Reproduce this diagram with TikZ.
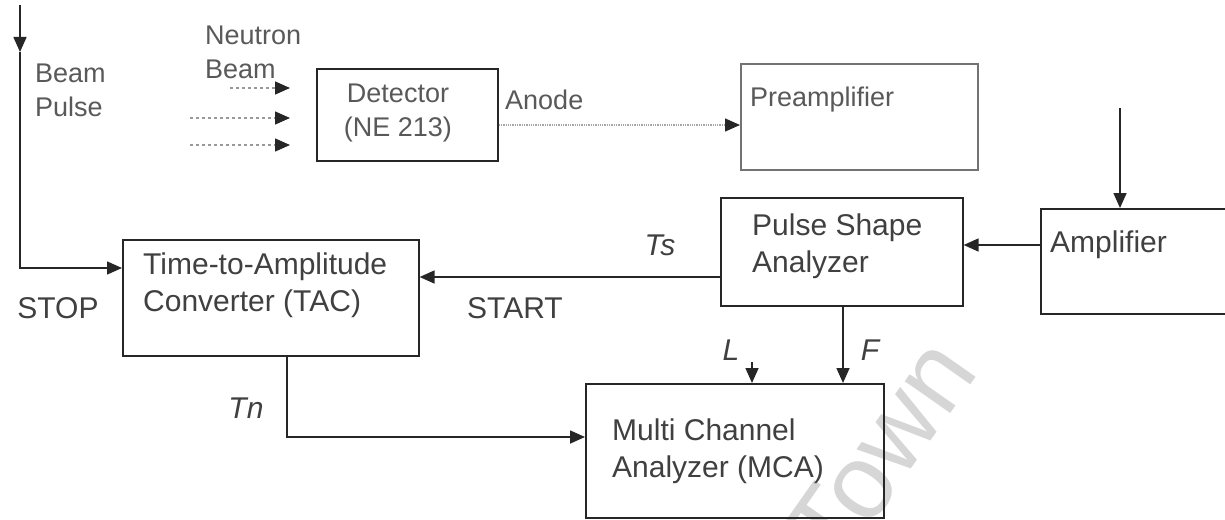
\documentclass[tikz,border=0pt]{standalone}
\usepackage{fontspec}
\setmainfont{Liberation Sans}
\usetikzlibrary{arrows.meta}
\begin{document}
\begin{tikzpicture}[x=1pt,y=-1pt,
  box/.style={draw=black!85,line width=1.6pt,inner sep=0pt},
  lbl/.style={text=black!75,font=\fontsize{30}{37}\selectfont,inner sep=0pt,align=left},
  slbl/.style={text=black!65,font=\fontsize{27}{34}\selectfont,inner sep=0pt,align=left},
  ilbl/.style={text=black!75,font=\fontsize{30}{37}\selectfont\itshape,inner sep=0pt},
  conn/.style={draw=black!85,line width=1.6pt,-{Triangle[length=15pt,width=13pt]}},
  faint/.style={draw=black!40,line width=1.4pt,dashed,-{Triangle[length=15pt,width=13pt,color=black!85]}},
]
\useasboundingbox (0,0) rectangle (1225,519);
\fill[white] (0,0) rectangle (1225,519);

% watermark
\node[text=black!16,font=\fontsize{105}{105}\selectfont,rotate=55,inner sep=0pt] (wm) at (880,452) {Town};

% boxes
\node[box,anchor=north west,minimum width=181pt,minimum height=92pt] (det) at (316,68) {};
\node[box,anchor=north west,minimum width=237pt,minimum height=106pt,draw=black!55] (pre) at (740,63) {};
\node[box,anchor=north west,minimum width=200pt,minimum height=105pt] (amp) at (1040,208) {};
\node[box,anchor=north west,minimum width=242pt,minimum height=108pt] (psa) at (720,197) {};
\node[box,anchor=north west,minimum width=296pt,minimum height=116pt] (tac) at (122,239) {};
\node[box,anchor=north west,minimum width=298pt,minimum height=134pt] (mca) at (585,383) {};

% box texts
\node[slbl,align=center] (dett) at (398,113) {Detector\\(NE 213)};
\node[slbl,anchor=west] (pret) at (750,100) {Preamplifier};
\node[lbl,anchor=west] (ampt) at (1050,245) {Amplifier};
\node[lbl,anchor=west] (psat) at (752,246) {Pulse Shape\\Analyzer};
\node[lbl,anchor=west] (tact) at (143,285) {Time-to-Amplitude\\Converter (TAC)};
\node[lbl,anchor=west] (mcat) at (612,451) {Multi Channel\\Analyzer (MCA)};

% labels
\node[slbl,anchor=west] (bpl) at (35,90) {Beam\\Pulse};
\node[slbl,anchor=west] (nbl) at (205,52) {Neutron\\Beam};
\node[slbl,anchor=west] (anl) at (505,100) {Anode};
\node[lbl] (stop) at (58,308) {STOP};
\node[lbl] (start) at (515,308) {START};
\node[ilbl] (ts) at (660,245) {Ts};
\node[ilbl] (tn) at (246,408) {Tn};
\node[ilbl] (ll) at (731,350) {L};
\node[ilbl] (ff) at (870,350) {F};

% coordinates
\coordinate (bp0) at (20,5);
\coordinate (bp1) at (20,52);
\coordinate (nb1) at (230,88);
\coordinate (nb2) at (190,118);
\coordinate (nb3) at (190,145);
\coordinate (pa) at (1120,108);
\coordinate (lc) at (752,362);

% connectors
\draw[conn] (bp0) -- (bp1);
\draw[conn] (bp1) |- (tac.west |- 0,268);
\draw[faint,shorten >=26pt] (nb1) -- (det.west |- nb1);
\draw[faint,shorten >=26pt] (nb2) -- (det.west |- nb2);
\draw[faint,shorten >=26pt] (nb3) -- (det.west |- nb3);
\draw[draw=black!35,line width=1.3pt,densely dotted,-{Triangle[length=15pt,width=13pt,color=black!85]}] (det.east |- 0,125) -- (pre.west |- 0,125);
\draw[conn] (pa) -- (pa |- amp.north);
\draw[conn] (amp.west |- 0,245) -- (psa.east |- 0,245);
\draw[conn] (psa.west |- 0,277) -- (tac.east |- 0,277);
\draw[conn] (tac.south -| 287,0) |- (mca.west |- 0,437);
\draw[conn] (psa.south -| 843,0) -- (mca.north -| 843,0);
\draw[conn] (lc) -- (mca.north -| lc);
\end{tikzpicture}
\end{document}
